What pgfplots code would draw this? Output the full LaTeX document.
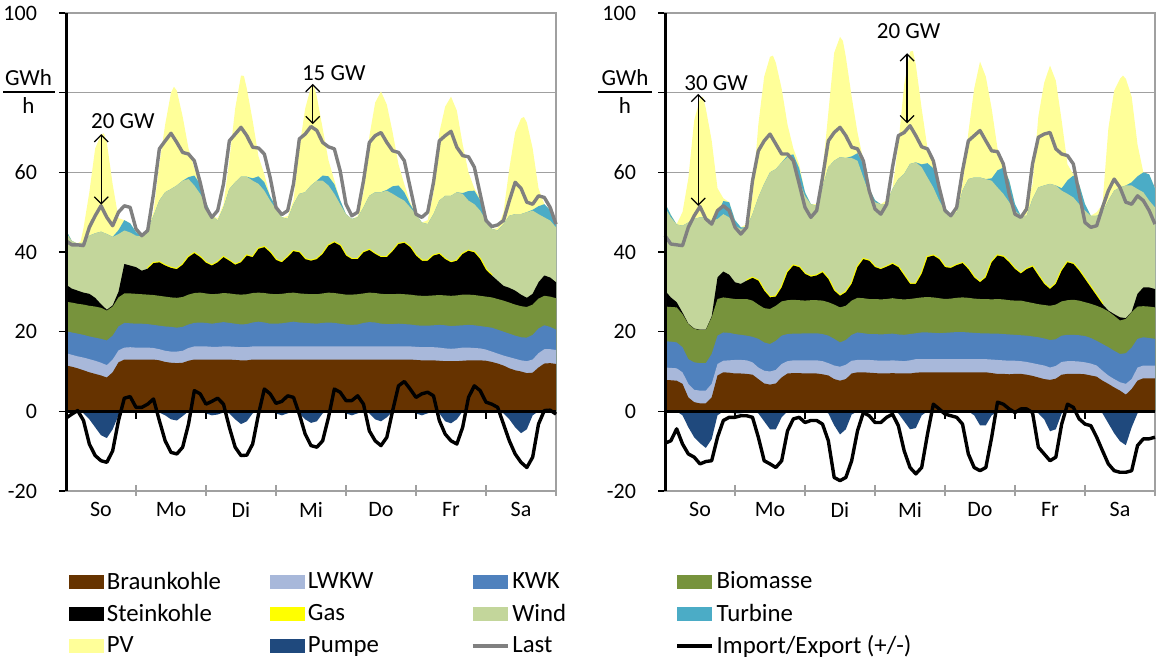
\documentclass[border=0pt]{standalone}
\usepackage{pgfplots}
\pgfplotsset{compat=1.18}
\usepackage{pgfplotstable}
\usepackage{fontspec}
\setmainfont{Carlito}
\usetikzlibrary{arrows.meta}

\definecolor{cBraun}{HTML}{663300}
\definecolor{cLWKW}{HTML}{A8B8DA}
\definecolor{cKWK}{HTML}{4F81BD}
\definecolor{cBio}{HTML}{77933C}
\definecolor{cGas}{HTML}{FFFF00}
\definecolor{cWind}{HTML}{C3D69B}
\definecolor{cTurb}{HTML}{4BACC6}
\definecolor{cPV}{HTML}{FFFF99}
\definecolor{cPump}{HTML}{1F497D}
\definecolor{cLast}{HTML}{808080}
\definecolor{cGrid}{HTML}{A0A0A0}

% columns: hour, cumulative tops of the stacked areas, Pumpe, Last, Import/Export
\pgfplotstableread{
h B L K Bio S W T Pu Last IE
0 11.5 14.6 20.1 27.5 31.8 44.9 45.5 0 42.8 -1.7
2 11.2 14.2 19.8 27.3 30.8 42.8 42.8 0 41.8 -0.7
4 10.8 13.8 19.5 27.0 30.3 42.0 42.0 0 41.8 0.2
6 10.3 13.5 19.2 26.8 29.8 42.4 42.4 -0.5 41.6 -2.3
8 9.8 13.1 18.8 26.5 29.5 44.1 44.1 -2 46.2 -8.2
10 9.4 12.7 18.5 26.3 28.5 44.7 44.7 -4 49.1 -11.1
12 9.0 12.2 18.2 26.0 26.9 45.1 45.1 -6 51.6 -12.4
14 8.5 11.6 17.8 25.3 25.5 44.5 44.5 -6.7 48.7 -12.8
16 9.8 13.0 19.0 26.3 26.6 43.8 43.8 -4.5 46.6 -9.9
18 12.3 15.3 21.3 28.6 30.0 44.5 45.5 -1 50.0 -2.3
20 13.0 16.0 22.2 29.6 37.0 45.4 48.0 0 51.6 3.3
22 13.0 16.1 22.1 29.6 36.6 44.9 47.2 0 51.2 3.7
24 13.0 16.0 22.0 29.5 36.2 44.1 45.0 -0.3 45.8 1.0
26 13.0 16.0 22.0 29.4 35.3 43.9 43.9 -0.3 44.1 1.0
28 13.0 16.0 21.9 29.3 35.8 45.4 45.4 -0.3 45.4 1.8
30 13.0 15.9 21.7 29.2 37.2 49.1 49.1 0 54.6 3.1
32 12.8 15.6 21.5 29.0 37.4 52.9 52.9 -0.3 65.9 -2.3
34 12.4 15.2 21.3 28.8 36.6 55.0 55.0 -1 67.9 -7.4
36 12.2 15.0 21.2 28.6 36.0 55.8 55.8 -2 69.8 -10.3
38 12.1 15.0 21.0 28.5 35.7 56.7 56.7 -2.3 67.5 -10.7
40 12.2 15.2 21.2 28.7 36.8 57.9 57.9 -1.2 65.0 -9.0
42 12.7 15.9 21.8 29.3 38.7 58.3 58.8 0 64.6 -3.2
44 13.0 16.3 22.2 29.7 39.7 56.7 59.2 0 62.9 5.2
46 13.0 16.3 22.3 29.8 38.7 54.6 57.0 0 57.5 4.4
48 13.0 16.3 22.2 29.6 37.3 52.0 52.5 -0.5 51.2 1.8
50 13.0 16.2 22.0 29.4 36.6 49.1 49.1 -1 48.7 2.5
52 13.0 16.2 22.2 29.5 37.4 47.9 47.9 -0.8 50.4 3.3
54 13.0 16.3 22.4 29.7 38.7 51.2 51.2 -0.3 57.1 1.8
56 13.0 16.3 22.2 29.6 37.8 55.8 55.8 -0.5 67.9 -4.0
58 12.9 16.2 22.0 29.4 36.8 57.5 57.5 -2 69.6 -9.0
60 12.8 16.1 21.8 29.3 37.4 58.9 58.9 -3.2 71.3 -11.1
62 12.8 16.1 21.9 29.4 39.1 58.9 58.9 -2.5 69.2 -11.0
64 13.0 16.3 22.3 29.7 38.7 57.9 58.5 -0.5 66.3 -8.2
66 13.0 16.3 22.5 29.8 40.8 57.1 59.0 0 66.1 -0.7
68 13.0 16.3 22.3 29.7 41.2 55.4 57.5 0 64.6 5.6
70 13.0 16.3 22.0 29.5 39.9 52.9 54.0 0 58.7 4.4
72 13.0 16.3 22.0 29.4 38.0 50.8 51.2 -0.5 51.2 2.0
74 13.0 16.3 22.1 29.5 37.4 48.7 48.7 -1 49.4 2.5
76 13.0 16.3 22.3 29.7 38.7 48.3 48.3 -0.5 50.4 3.9
78 13.0 16.3 22.5 29.8 40.2 52.0 52.0 0 57.1 3.5
80 13.0 16.3 22.3 29.6 39.9 54.6 54.6 -0.5 68.4 -0.7
82 13.0 16.3 22.2 29.5 38.2 55.0 55.0 -2 69.6 -5.7
84 13.0 16.3 22.1 29.4 37.8 56.7 56.7 -2.9 71.5 -8.6
86 13.0 16.3 22.0 29.4 38.2 57.9 57.9 -2.5 70.5 -9.0
88 13.0 16.3 22.2 29.6 39.5 57.9 59.2 -0.5 67.5 -7.4
90 13.0 16.3 22.3 29.8 41.6 56.7 59.0 0 66.4 -1.5
92 13.0 16.3 22.2 29.7 42.4 54.6 57.0 0 65.9 5.6
94 13.0 16.3 22.0 29.5 41.6 52.0 53.0 0 60.4 4.8
96 13.0 16.3 21.8 29.3 39.1 49.5 49.5 -0.5 52.0 2.7
98 13.0 16.3 21.7 29.3 38.2 48.3 48.3 -1 49.1 2.7
100 13.0 16.3 21.8 29.4 38.2 48.7 48.7 -0.5 50.0 3.9
102 13.0 16.3 22.2 29.6 39.9 51.2 51.2 0 57.9 1.8
104 13.0 16.3 22.4 29.8 40.5 54.1 54.1 -0.5 67.5 -4.9
106 13.0 16.3 22.3 29.7 39.5 55.0 55.0 -2 69.2 -7.4
108 13.0 16.3 22.0 29.5 38.7 55.0 55.0 -2.5 70.0 -8.6
110 13.0 16.3 21.9 29.4 38.7 55.4 55.6 -1.5 67.5 -6.5
112 13.0 16.3 21.9 29.4 40.2 54.6 56.5 0 65.4 0.2
114 13.0 16.3 22.0 29.5 42.0 53.7 56.7 0 65.0 6.4
116 13.0 16.3 21.9 29.4 42.3 52.9 55.0 0 62.9 7.5
118 13.0 16.3 21.8 29.3 41.2 51.2 52.0 0 56.2 5.6
120 12.9 16.2 21.6 29.1 39.1 49.5 49.5 -0.5 49.5 3.5
122 12.8 16.1 21.5 29.0 37.8 47.4 47.4 -1 48.7 4.4
124 12.8 16.1 21.5 29.0 37.8 47.0 47.0 -0.5 50.0 4.8
126 12.8 16.1 21.6 29.1 39.1 49.5 49.5 0 57.5 3.9
128 12.7 16.0 21.7 29.2 39.5 52.9 52.9 -0.5 67.9 -2.3
130 12.6 15.8 21.6 29.1 38.2 54.1 54.1 -2.5 69.2 -5.7
132 12.6 15.7 21.4 29.0 37.4 54.1 54.1 -3 70.3 -7.4
134 12.6 15.8 21.5 29.1 37.8 55.0 55.0 -2 66.3 -8.2
136 12.7 16.0 21.6 29.3 39.5 54.6 54.8 0 64.2 -4.0
138 12.8 16.0 21.7 29.3 40.3 52.9 55.3 0 63.9 3.5
140 12.8 15.9 21.6 29.2 39.9 52.0 55.4 0 61.3 6.4
142 12.8 15.8 21.4 29.0 38.2 50.4 53.0 0 54.6 5.2
144 12.7 15.5 21.2 28.8 35.5 47.9 49.0 0 47.9 2.3
146 12.4 15.0 21.0 28.6 34.1 45.8 45.8 0 46.4 1.8
148 12.0 14.5 20.5 28.2 32.8 45.4 45.4 -0.3 46.8 1.0
150 11.5 14.0 20.0 27.8 31.5 47.0 47.0 -0.5 47.9 -3.2
152 10.8 13.6 19.5 27.3 31.0 49.1 49.1 -2 52.9 -7.4
154 10.3 13.2 19.0 26.8 30.3 49.5 49.5 -4 57.5 -10.7
156 10.0 12.8 18.6 26.4 29.3 49.5 49.5 -5.5 56.0 -12.8
158 9.6 12.6 18.5 26.2 28.5 50.0 50.0 -4.5 52.5 -14.1
160 9.7 13.0 19.2 26.8 29.5 50.4 50.6 -1 52.0 -11.5
162 11.0 14.6 20.8 28.3 32.4 49.5 51.5 0 54.1 -3.2
164 12.0 15.6 21.6 29.0 34.1 48.7 52.0 0 53.7 0.2
166 12.1 15.6 21.2 28.8 33.6 47.9 50.5 0 51.2 0.3
168 11.9 15.4 20.5 28.4 32.4 46.2 47.5 0 47.0 -0.7
}\ltab

\pgfplotstableread{
h P
0 45.5
2 42.8
4 42.2
5 42.6
6 46
8 55
10 66
12 69.5
13 69.8
14 67.5
16 57
18 48.5
20 48.0
22 47.2
24 45.0
26 43.9
28 46
30 50
32 62
34 72
36 80
37 81.5
38 80.5
40 74
42 66
44 61
46 57.5
48 52.5
50 49.1
52 48.5
54 52
56 63
58 76
60 84.3
61 84.2
62 81
64 73
66 64
68 59.5
70 54
72 51.2
74 48.7
76 49
78 53
80 66
82 76
84 81.5
85 81.7
86 79
88 71
90 63
92 58
94 53
96 49.5
98 48.3
100 49
102 55
104 69
106 77.5
108 80.3
110 77
112 70
114 62
116 57
118 52.5
120 49.5
122 47.4
124 48
126 55
128 70
130 76.5
132 79
134 75.5
136 67
138 60
140 56
142 53.5
144 49
146 45.8
148 46
150 50
152 61
154 70
156 73.5
157 73.9
158 72.5
160 66
162 56
164 52
166 50.5
168 47.5
}\lpv

\pgfplotstableread{
h B L K Bio S W T Pu Last IE
0 7.9 11.0 17.6 26.3 30.3 51.2 52.3 0 44.1 -8.0
2 7.8 10.9 17.5 26.2 28.6 48.7 49.3 0 42.0 -7.4
4 7.7 10.8 17.3 26.1 27.4 46.9 46.9 0 41.8 -4.4
6 6.9 9.8 16.1 24.4 24.8 46.6 46.6 -1 41.6 -8.2
8 3.5 6.9 13.1 21.9 22.0 47.4 47.4 -4 46.2 -10.7
10 2.3 5.4 12.3 20.7 20.8 48.3 48.3 -6.5 49.1 -11.5
12 2.0 5.2 12.1 20.4 20.5 48.7 48.7 -8 51.4 -13.2
14 2.0 5.2 12.1 20.4 20.5 48.7 48.7 -9.2 48.3 -12.6
16 3.5 6.9 14.4 23.6 23.8 47.9 47.9 -7 47.0 -12.4
18 9.0 11.9 19.0 28.2 33.6 48.3 49.5 -1 50.4 -6.5
20 9.8 12.7 19.8 28.6 35.1 49.5 52.8 0 51.6 -2.3
22 9.7 12.8 19.7 28.4 34.3 48.7 52.5 -0.3 50.4 -1.5
24 9.5 12.9 19.4 28.2 32.4 46.6 48.0 -0.5 46.2 -1.5
26 9.5 12.9 19.2 28.2 32.0 45.8 46.2 -0.5 44.5 -1.1
28 9.4 12.8 19.0 28.2 32.8 46.2 46.2 -0.3 46.2 -1.1
30 9.2 12.3 18.7 27.8 33.5 49.5 49.5 0 57.9 -1.5
32 8.1 11.0 18.2 26.8 32.8 53.7 53.7 -0.5 65.4 -6.5
34 7.0 10.2 17.3 25.9 30.3 57.1 57.1 -2.5 67.9 -12.4
36 6.7 10.0 16.9 25.7 28.6 60.0 60.0 -4.5 69.6 -13.2
38 7.0 10.4 17.7 26.5 28.8 60.8 60.8 -4.5 67.1 -14.1
40 8.5 11.9 19.0 27.6 31.1 62.5 62.5 -1.5 64.6 -12.4
42 9.5 12.6 19.4 27.9 34.9 63.8 64.2 0 64.6 -4.9
44 9.6 12.8 19.5 28.0 36.6 62.9 64.5 0 62.9 -1.9
46 9.6 12.8 19.5 27.9 36.2 57.9 61.0 0 57.1 -1.5
48 9.5 12.8 19.6 27.8 34.5 54.1 55.0 -0.3 51.2 -2.8
50 9.5 12.8 19.6 27.9 33.8 52.0 52.0 -0.3 48.7 -2.3
52 9.5 12.8 19.6 27.9 34.1 51.6 51.6 0 50.4 -2.3
54 9.3 12.6 19.4 27.8 34.9 56.2 56.2 0 58.7 -3.2
56 9.0 12.1 19.0 27.4 33.2 61.3 61.3 -0.5 67.9 -7.4
58 8.1 11.5 18.2 26.8 30.3 62.9 62.9 -3.5 70.0 -16.6
60 7.7 11.2 17.3 26.1 29.0 63.8 63.8 -5.8 71.3 -17.4
62 8.1 11.7 17.9 26.5 29.9 63.6 63.6 -4.5 69.2 -16.6
64 9.5 12.7 19.2 27.8 32.0 63.6 64.0 -0.8 66.3 -12.4
66 9.8 12.9 19.8 28.5 36.2 62.9 64.8 0 65.9 -4.9
68 9.8 12.9 19.6 28.4 38.2 58.7 62.0 0 62.9 -0.3
70 9.7 12.9 19.4 28.2 37.8 54.6 56.0 0 55.4 -1.1
72 9.6 12.8 19.4 28.2 36.2 52.5 53.0 0 50.8 -2.8
74 9.5 12.7 19.3 28.1 35.7 52.0 52.0 0 49.5 -2.8
76 9.5 12.7 19.4 28.2 36.3 52.0 52.0 0 52.0 -1.5
78 9.6 12.8 19.5 28.4 37.0 55.8 55.8 0 61.3 -0.7
80 9.5 12.7 19.3 28.2 36.2 58.3 58.3 -0.5 69.2 -3.6
82 9.5 12.6 19.2 28.1 34.1 59.6 59.6 -2.5 70.0 -9.9
84 9.5 12.8 19.4 28.2 32.0 62.1 62.1 -4.5 71.7 -14.1
86 9.7 13.1 19.6 28.4 32.0 62.5 62.5 -4.2 69.2 -15.7
88 9.8 13.1 19.8 28.6 34.5 61.3 62.0 -1 66.4 -14.1
90 9.8 13.1 19.8 28.7 38.7 58.7 62.3 0 65.9 -5.7
92 9.8 13.1 19.7 28.6 39.1 56.2 61.0 0 62.9 1.8
94 9.8 13.1 19.6 28.4 38.2 52.9 56.0 0 56.2 0.6
96 9.8 13.1 19.7 28.2 36.2 50.4 51.0 0 50.4 -0.7
98 9.8 13.1 19.8 28.3 36.0 49.5 49.5 0 49.1 -1.1
100 9.8 13.1 19.9 28.5 36.7 49.9 49.9 0 51.2 -1.5
102 9.8 13.1 19.9 28.6 37.2 55.4 55.4 0 60.4 -3.2
104 9.8 13.1 19.8 28.5 35.7 58.3 58.3 0 67.9 -10.7
106 9.8 13.1 19.7 28.3 33.6 58.7 58.7 -1 69.2 -14.1
108 9.8 13.1 19.6 28.2 32.4 58.7 58.7 -3.5 70.5 -14.9
110 9.8 13.1 19.6 28.2 33.6 58.3 58.3 -3.5 67.9 -14.1
112 9.6 13.0 19.5 28.1 37.4 57.9 58.5 -1 65.4 -6.5
114 9.4 12.9 19.5 28.2 39.1 56.2 60.5 0 65.2 2.3
116 9.4 12.8 19.4 28.1 38.8 54.6 61.2 0 62.1 1.8
118 9.3 12.7 19.3 27.9 37.4 52.5 58.0 0 54.6 0.6
120 9.4 12.7 19.2 27.8 35.7 50.4 52.0 0 49.5 -0.3
122 9.4 12.6 19.1 27.8 34.6 49.1 49.1 0 48.7 0.6
124 9.2 12.4 19.0 27.5 35.7 49.1 49.1 0 50.8 0.6
126 8.9 12.1 18.8 27.2 36.3 53.3 53.3 0 62.1 -0.3
128 8.5 11.8 18.6 26.9 34.1 56.2 56.2 -0.5 68.8 -9.0
130 8.1 11.5 18.3 26.7 32.0 56.7 56.7 -2 69.6 -10.7
132 7.9 11.0 17.9 26.5 30.7 57.1 57.1 -5 70.0 -12.4
134 8.2 11.4 18.1 26.8 32.0 56.7 56.7 -4.5 65.9 -11.5
136 9.2 12.4 19.0 27.6 35.3 55.4 56.0 -0.5 64.6 -3.2
138 9.4 12.6 19.2 27.9 37.4 54.6 58.0 0 64.2 1.8
140 9.4 12.6 19.2 28.0 37.0 53.7 59.2 0 62.1 1.0
142 9.4 12.5 19.1 27.8 35.3 52.0 57.0 0 54.6 -1.9
144 9.3 12.3 18.9 27.4 33.2 50.4 52.0 0 47.4 -3.2
146 9.0 12.0 18.4 27.0 31.1 49.1 49.1 0 46.2 -3.6
148 8.7 11.5 17.7 26.5 29.0 49.1 49.1 0 46.6 -6.5
150 7.7 10.2 16.9 25.9 26.9 49.9 49.9 -0.5 51.2 -9.9
152 6.9 9.0 16.1 25.1 25.3 52.9 52.9 -3 55.4 -13.2
154 6.0 8.1 15.2 24.0 24.4 55.4 55.4 -5.5 58.3 -14.9
156 5.2 7.3 14.4 22.8 23.6 56.2 56.2 -7.5 56.2 -15.3
158 4.2 6.9 14.6 23.2 23.4 56.7 56.7 -8.5 52.5 -15.3
160 5.6 8.1 16.0 24.9 25.0 56.7 57.5 -4 52.0 -14.9
162 7.7 11.0 18.2 26.3 29.5 55.8 59.0 -0.5 54.1 -8.6
164 8.3 11.5 18.6 26.4 31.1 55.0 60.0 0 52.9 -6.9
166 8.3 11.5 18.4 26.3 31.1 52.9 59.5 0 50.4 -6.9
168 8.3 11.5 18.2 26.1 30.7 51.2 56.0 0 47.0 -6.5
}\rtab

\pgfplotstableread{
h P
0 52.3
2 49.3
4 47.0
6 50
8 58.5
10 73
12 78.5
13 79.0
14 76
16 68
18 56
20 53.5
22 52.5
24 48
26 46.2
28 47
30 54
32 72
34 84
36 89
37 89.3
38 87.5
40 81
42 72
44 66
46 62
48 55
50 52
52 52
54 60
56 75
58 90
60 94
61 93
62 89
64 79
66 70
68 63
70 56
72 53
74 52
76 53
78 56
80 67
82 82
84 90.3
85 90.5
86 87
88 76
90 66
92 62
94 56
96 51
98 49.5
100 52
102 57
104 70
106 81
108 87.8
110 84
112 76
114 66
116 62
118 58
120 52
122 49.1
124 52
126 57
128 74
130 82.5
132 86.8
134 83
136 73
138 62
140 59.5
142 57
144 52
146 49.1
148 50
150 52
152 71
154 80.5
156 83.5
157 84.3
158 83.5
160 79
162 67
164 60
166 59.5
168 56
}\rpv

\tikzset{
  arr/.style={{Straight Barb[length=3.5pt,width=7pt]}-{Straight Barb[length=3.5pt,width=7pt]}, line width=0.6pt, black},
}
\pgfplotsset{
  myarea/.style={legend image code/.code={\fill[##1] (0pt,-3.5pt) rectangle (17.5pt,3.5pt);}},
  myline/.style={legend image code/.code={\draw[##1] (0pt,0pt) -- (17.5pt,0pt);}},
  chart/.style={
    width=245pt, height=239pt, scale only axis,
    xmin=0, xmax=168, ymin=-20, ymax=100,
    clip=false,
    ytick={-20,0,20,40,60,80,100},
    yticklabels={-20,0,20,40,60,,100},
    xtick=\empty,
    extra x ticks={12,36,60,84,108,132,156},
    extra x tick labels={So,Mo,Di,Mi,Do,Fr,Sa},
    extra x tick style={major tick length=0pt, grid=none},
    x tick label style={yshift=-2pt},
    y tick label style={xshift=-7.5pt},
    ymajorgrids, grid style={cGrid, line width=0.5pt},
    axis line style={cGrid, line width=0.6pt},
    ytick pos=left,
    tick align=outside,
    major tick length=3.5pt,
    tick style={black, line width=0.7pt},
    tick label style={black, font=\fontsize{11}{13}\selectfont},
    font=\fontsize{11.5}{13.5}\selectfont,
  },
}

\newcommand{\drawstack}[3]{%
  \addplot[fill=cPV, draw=none, forget plot] table[x=h,y=P]{#2} \closedcycle;
  \addplot[fill=cTurb, draw=none, forget plot] table[x=h,y=T]{#1} \closedcycle;
  \addplot[fill=cWind, draw=none, forget plot] table[x=h,y=W]{#1} \closedcycle;
  \addplot[cGas, line width=1.1pt, forget plot, restrict x to domain=#3] table[x=h,y=S]{#1};
  \addplot[fill=black, draw=none, forget plot] table[x=h,y=S]{#1} \closedcycle;
  \addplot[fill=cBio, draw=none, forget plot] table[x=h,y=Bio]{#1} \closedcycle;
  \addplot[fill=cKWK, draw=none, forget plot] table[x=h,y=K]{#1} \closedcycle;
  \addplot[fill=cLWKW, draw=none, forget plot] table[x=h,y=L]{#1} \closedcycle;
  \addplot[fill=cBraun, draw=none, forget plot] table[x=h,y=B]{#1} \closedcycle;
  \addplot[fill=cPump, draw=none, forget plot] table[x=h,y=Pu]{#1} \closedcycle;
  \draw[black, line width=1.5pt] (axis cs:0,0) -- (axis cs:168,0);
  \pgfplotsinvokeforeach{24,48,72,96,120,144}{
    \draw[black, line width=0.7pt] (axis cs:##1,0) -- ([yshift=-4pt]axis cs:##1,0);
    \draw[cGrid, line width=0.7pt] ([yshift=-2.5pt]axis cs:##1,-20) -- ([yshift=3pt]axis cs:##1,-20);
  }
  \draw[cGrid, line width=0.7pt] ([yshift=-2.5pt]axis cs:168,-20) -- ([yshift=3pt]axis cs:168,-20);
  \addplot[cLast, line width=1.7pt, line join=round, forget plot] table[x=h,y=Last]{#1};
  \addplot[black, line width=1.7pt, line join=round, forget plot] table[x=h,y=IE]{#1};
  \draw[black, line width=1.5pt] (rel axis cs:0,0) -- (rel axis cs:0,1);
}

\begin{document}
\begin{tikzpicture}
\useasboundingbox (0,0) rectangle (578pt,330pt);

\begin{axis}[chart, at={(33pt,84.5pt)}, anchor=south west,
  legend columns=4,
  legend cell align=left,
  legend style={at={(0.006,-0.161)}, anchor=north west, draw=none, fill=none,
    inner sep=0pt, outer sep=0pt, row sep=2pt,
    font=\fontsize{12.4}{14}\selectfont,
    nodes={inner sep=1.5pt, minimum height=14pt}},
]
\drawstack{\ltab}{\lpv}{28:146}
\draw[arr] (axis cs:12.1,69.6) -- (axis cs:12.1,51.9);
\node at (axis cs:19.5,72.9) {20 GW};
\draw[arr] (axis cs:84.6,82.2) -- (axis cs:84.6,72.1);
\node at (axis cs:91.8,84.9) {15 GW};

\addlegendimage{myarea, fill=cBraun, draw=none}
\addlegendentry{\makebox[80pt][l]{Braunkohle}}
\addlegendimage{myarea, fill=cLWKW, draw=none}
\addlegendentry{\makebox[80pt][l]{LWKW}}
\addlegendimage{myarea, fill=cKWK, draw=none}
\addlegendentry{\makebox[80pt][l]{KWK}}
\addlegendimage{myarea, fill=cBio, draw=none}
\addlegendentry{\makebox[80pt][l]{Biomasse}}
\addlegendimage{myarea, fill=black, draw=none}
\addlegendentry{\makebox[80pt][l]{Steinkohle}}
\addlegendimage{myarea, fill=cGas, draw=none}
\addlegendentry{\makebox[80pt][l]{Gas}}
\addlegendimage{myarea, fill=cWind, draw=none}
\addlegendentry{\makebox[80pt][l]{Wind}}
\addlegendimage{myarea, fill=cTurb, draw=none}
\addlegendentry{\makebox[80pt][l]{Turbine}}
\addlegendimage{myarea, fill=cPV, draw=none}
\addlegendentry{\makebox[80pt][l]{PV}}
\addlegendimage{myarea, fill=cPump, draw=none}
\addlegendentry{\makebox[80pt][l]{Pumpe}}
\addlegendimage{myline, cLast, line width=1.7pt}
\addlegendentry{\makebox[80pt][l]{Last}}
\addlegendimage{myline, black, line width=1.7pt}
\addlegendentry{\makebox[80pt][l]{Import/Export (+/-)}}
\end{axis}

\begin{axis}[chart, at={(332.5pt,84.5pt)}, anchor=south west]
\drawstack{\rtab}{\rpv}{28:150}
\draw[arr] (axis cs:11.4,79.7) -- (axis cs:11.4,51.6);
\node at (axis cs:17.5,82.4) {30 GW};
\draw[arr] (axis cs:83,89.9) -- (axis cs:83,72.3);
\node at (axis cs:83.5,95.4) {20 GW};
\end{axis}

\begin{scope}[font=\fontsize{11.5}{13.5}\selectfont]
\node at (14.25pt,291pt) {GWh};
\draw[black, line width=0.6pt] (1.5pt,284pt) -- (27.5pt,284pt);
\node at (14.25pt,277pt) {h};
\node at (312.5pt,291pt) {GWh};
\draw[black, line width=0.6pt] (299pt,284pt) -- (326pt,284pt);
\node at (312.5pt,277pt) {h};
\end{scope}
\end{tikzpicture}
\end{document}
